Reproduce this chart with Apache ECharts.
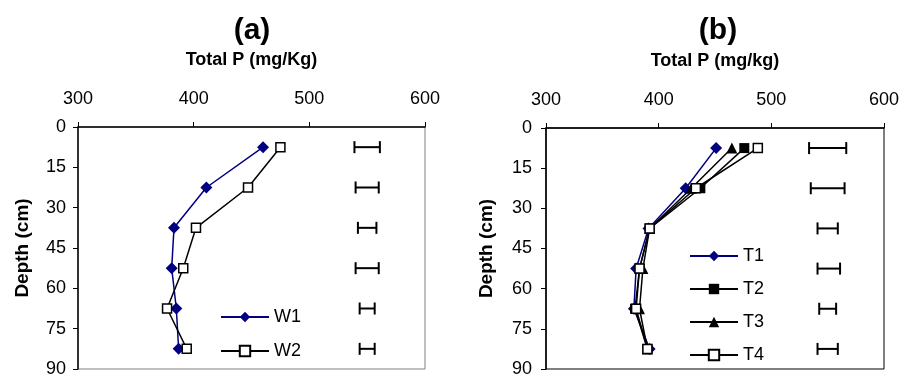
<!DOCTYPE html>
<html>
<head>
<meta charset="utf-8">
<script src="https://cdn.jsdelivr.net/npm/echarts@6/dist/echarts.min.js"></script>
<style>html,body{margin:0;padding:0;background:#fff}#c{width:913px;height:378px}</style>
</head>
<body>
<div id="c"></div>
<script>
const depths = [7.5, 22.5, 37.5, 52.5, 67.5, 82.5];
const W1 = [460, 411, 383, 381, 385, 387];
const W2 = [475, 447, 402, 391, 377, 394];
const T1 = [451, 424, 391, 380, 378, 392];
const T2 = [476, 437, 392, 383, 379, 390];
const T3 = [465, 429, 392, 386, 383, 390];
const T4 = [488, 433, 392, 383, 380, 390];
const errCenterA = [550, 550, 550, 550, 550, 550];
const errHalfA = [11, 10, 8, 10, 6.5, 6.5];
const errCenterB = [550, 550, 550, 551, 550, 550];
const errHalfB = [16.5, 15, 9, 10, 7.5, 9];
const xTicks = [300, 400, 500, 600];
const yTicks = [0, 15, 30, 45, 60, 75, 90];

const FONT = "'Liberation Sans', Arial, sans-serif";
const chart = echarts.init(document.getElementById('c'), null, {renderer: 'canvas'});

function pair(vals) { return vals.map((v, i) => [v, depths[i]]); }
function errData(c, h) { return c.map((v, i) => [v, depths[i], h[i]]); }

function renderErr(params, api) {
  const c = api.value(0), d = api.value(1), h = api.value(2);
  const p1 = api.coord([c - h, d]);
  const p2 = api.coord([c + h, d]);
  const cap = 6;
  const st = {stroke: '#000', lineWidth: 2};
  return {type: 'group', children: [
    {type: 'line', shape: {x1: p1[0], y1: p1[1], x2: p2[0], y2: p2[1]}, style: st},
    {type: 'line', shape: {x1: p1[0], y1: p1[1] - cap, x2: p1[0], y2: p1[1] + cap}, style: st},
    {type: 'line', shape: {x1: p2[0], y1: p2[1] - cap, x2: p2[0], y2: p2[1] + cap}, style: st}
  ]};
}

function xAxisDef(gi, name) {
  return {
    gridIndex: gi, type: 'value', position: 'top', min: xTicks[0], max: xTicks[xTicks.length - 1], interval: 100,
    name: name, nameLocation: 'middle', nameGap: 58,
    nameTextStyle: {fontFamily: FONT, fontSize: 18, fontWeight: 'bold', color: '#000'},
    axisLine: {show: true, lineStyle: {color: '#000', width: 1.5}},
    axisTick: {show: true, inside: false, length: 5, lineStyle: {color: '#000'}},
    axisLabel: {fontFamily: FONT, fontSize: 18, color: '#000', margin: 19},
    splitLine: {show: false}
  };
}
function yAxisDef(gi, gap, margin) {
  return {
    gridIndex: gi, type: 'value', inverse: true, min: yTicks[0], max: yTicks[yTicks.length - 1], interval: 15,
    name: 'Depth (cm)', nameLocation: 'middle', nameGap: gap, nameRotate: 90,
    nameTextStyle: {fontFamily: FONT, fontSize: 19, fontWeight: 'bold', color: '#000'},
    axisLine: {show: true, lineStyle: {color: '#000', width: 1.5}},
    axisTick: {show: true, inside: false, length: 5, lineStyle: {color: '#000'}},
    axisLabel: {fontFamily: FONT, fontSize: 18, color: '#000', margin: margin},
    splitLine: {show: false}
  };
}

function lineSeries(name, vals, xi, color, symbol, fill, size) {
  return {
    name: name, type: 'line', xAxisIndex: xi, yAxisIndex: xi, data: pair(vals),
    symbol: symbol, symbolSize: size, showAllSymbol: true,
    lineStyle: {color: color, width: 1.5},
    itemStyle: {color: fill, borderColor: color, borderWidth: fill === '#fff' ? 1.5 : 0},
    z: 3, animation: false
  };
}

const option = {
  animation: false,
  backgroundColor: '#fff',
  graphic: [
    {type: 'text', x: 252, y: 31, style: {text: '(a)', font: 'bold 30px ' + FONT, fill: '#000', textAlign: 'center', textVerticalAlign: 'middle'}},
    {type: 'text', x: 718, y: 31, style: {text: '(b)', font: 'bold 30px ' + FONT, fill: '#000', textAlign: 'center', textVerticalAlign: 'middle'}}
  ],
  grid: [
    {left: 78, top: 127, width: 347, height: 246, show: true, borderColor: '#808080', borderWidth: 1, backgroundColor: 'transparent'},
    {left: 546, top: 128, width: 338, height: 244, show: true, borderColor: '#000', borderWidth: 1, backgroundColor: 'transparent'}
  ],
  xAxis: [xAxisDef(0, 'Total P (mg/Kg)'), xAxisDef(1, 'Total P (mg/kg)')],
  yAxis: [yAxisDef(0, 46, 12), yAxisDef(1, 50, 14)],
  legend: [
    {data: ['W1', 'W2'], orient: 'vertical', left: 220, top: 308, padding: 0, itemWidth: 48, itemHeight: 13, itemGap: 16,
     textStyle: {fontFamily: FONT, fontSize: 18, color: '#000'}},
    {data: ['T1', 'T2', 'T3', 'T4'], orient: 'vertical', left: 689, top: 247, padding: 0, itemWidth: 48, itemHeight: 13, itemGap: 15,
     textStyle: {fontFamily: FONT, fontSize: 18, color: '#000'}}
  ],
  series: [
    lineSeries('W1', W1, 0, '#000080', 'diamond', '#000080', 12),
    lineSeries('W2', W2, 0, '#000', 'rect', '#fff', 9),
    {type: 'custom', xAxisIndex: 0, yAxisIndex: 0, data: errData(errCenterA, errHalfA), renderItem: renderErr, encode: {x: 0, y: 1}, silent: true},
    lineSeries('T1', T1, 1, '#000080', 'diamond', '#000080', 12),
    lineSeries('T2', T2, 1, '#000', 'rect', '#000', 10),
    lineSeries('T3', T3, 1, '#000', 'triangle', '#000', 11),
    lineSeries('T4', T4, 1, '#000', 'rect', '#fff', 9),
    {type: 'custom', xAxisIndex: 1, yAxisIndex: 1, data: errData(errCenterB, errHalfB), renderItem: renderErr, encode: {x: 0, y: 1}, silent: true}
  ]
};
chart.setOption(option);
</script>
</body>
</html>
